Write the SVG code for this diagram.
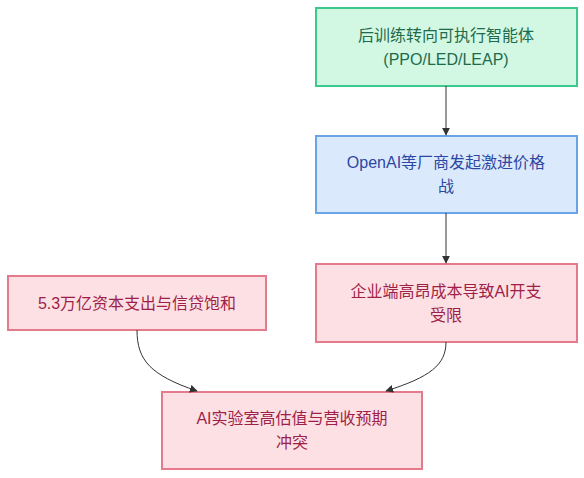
<svg xmlns="http://www.w3.org/2000/svg" width="584" height="478" viewBox="0 0 584 478">
<style>
text{font-family:"Liberation Sans","Noto Sans CJK SC",sans-serif;font-size:16px;text-anchor:middle;dominant-baseline:central}
.g rect{fill:#d2f8e3;stroke:#3dc88c;stroke-width:2}
.g text{fill:#1d6b4c}
.b rect{fill:#dbe9fd;stroke:#6aa3e6;stroke-width:2}
.b text{fill:#2b47a3}
.r rect{fill:#fde0e4;stroke:#e57a8c;stroke-width:2}
.r text{fill:#9e1f48}
.e{fill:none;stroke:#333;stroke-width:1}
</style>
<defs><marker id="a" viewBox="0 0 10 10" refX="9" refY="5" markerWidth="8" markerHeight="8" orient="auto"><path d="M0,0L10,5L0,10z" fill="#333"/></marker></defs>
<g id="n1" class="g"><rect x="316" y="8" width="261" height="78"/><text x="446" y="35">后训练转向可执行智能体</text><text x="446" y="59">(PPO/LED/LEAP)</text></g>
<g id="n2" class="b"><rect x="316" y="136" width="261" height="77"/><text x="446" y="162">OpenAI等厂商发起激进价格</text><text x="446" y="186">战</text></g>
<g id="n3" class="r"><rect x="316" y="264" width="261" height="78"/><text x="446" y="291">企业端高昂成本导致AI开支</text><text x="446" y="315">受限</text></g>
<g id="n4" class="r"><rect x="8" y="276" width="258" height="54"/><text x="137" y="303">5.3万亿资本支出与信贷饱和</text></g>
<g id="n5" class="r"><rect x="162" y="392" width="260" height="77"/><text x="292" y="418">AI实验室高估值与营收预期</text><text x="292" y="442">冲突</text></g>
<g id="edges">
<path class="e" d="M446,86V135" marker-end="url(#a)"/>
<path class="e" d="M446,213V263" marker-end="url(#a)"/>
<path class="e" d="M137,330C137,360 150,375 197,391" marker-end="url(#a)"/>
<path class="e" d="M446,342C446,365 430,377 386,391" marker-end="url(#a)"/>
</g>
</svg>
